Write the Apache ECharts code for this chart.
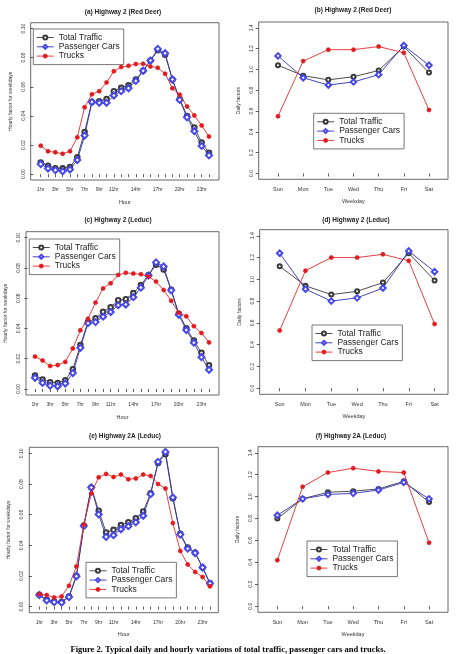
<!DOCTYPE html>
<html>
<head>
<meta charset="utf-8">
<script src="https://cdn.jsdelivr.net/npm/echarts@6/dist/echarts.min.js"></script>
<style>
  html, body { margin: 0; padding: 0; background: #fff; }
  #main { width: 456px; height: 654px; }
</style>
</head>
<body>
<div id="main"></div>
<script>
// ---- data ----
var hours = [1, 2, 3, 4, 5, 6, 7, 8, 9, 10, 11, 12, 13, 14, 15, 16, 17, 18, 19, 20, 21, 22, 23, 24];
var hourLabels = [1, 3, 5, 7, 9, 11, 14, 17, 20, 23];
var days = ['Sun', 'Mon', 'Tue', 'Wed', 'Thu', 'Fri', 'Sat'];
var dayIdx = [1, 2, 3, 4, 5, 6, 7];
var hourTicks = [0, 0.02, 0.04, 0.06, 0.08, 0.10];
var dayTicks = [0, 0.2, 0.4, 0.6, 0.8, 1.0, 1.2, 1.4];
var names = ['Total Traffic', 'Passenger Cars', 'Trucks'];

// (a) Highway 2 (Red Deer) hourly
var aTotal = [0.0081, 0.0058, 0.0041, 0.0040, 0.0050, 0.0117, 0.0290, 0.0495, 0.0500, 0.0516, 0.0570, 0.0594, 0.0610, 0.0650, 0.0710, 0.0780, 0.0850, 0.0820, 0.0650, 0.0516, 0.0400, 0.0320, 0.0217, 0.0147];
var aCars = [0.0069, 0.0039, 0.0028, 0.0020, 0.0032, 0.0097, 0.0265, 0.0495, 0.0490, 0.0490, 0.0540, 0.0570, 0.0590, 0.0640, 0.0710, 0.0780, 0.0860, 0.0830, 0.0650, 0.0510, 0.0390, 0.0295, 0.0194, 0.0129];
var aTrucks = [0.0196, 0.0157, 0.0150, 0.0140, 0.0157, 0.0253, 0.0459, 0.0548, 0.0570, 0.0630, 0.0707, 0.0735, 0.0744, 0.0756, 0.0758, 0.0740, 0.0730, 0.0690, 0.0590, 0.0546, 0.0465, 0.0403, 0.0334, 0.0258];
// (b) Highway 2 (Red Deer) daily
var bTotal = [1.04, 0.94, 0.90, 0.93, 0.99, 1.22, 0.97];
var bCars = [1.13, 0.92, 0.85, 0.88, 0.95, 1.23, 1.04];
var bTrucks = [0.55, 1.08, 1.19, 1.19, 1.22, 1.16, 0.61];
// (c) Highway 2 (Leduc) hourly
var cTotal = [0.0089, 0.0062, 0.0045, 0.0040, 0.0058, 0.0130, 0.0290, 0.0442, 0.0467, 0.0510, 0.0540, 0.0587, 0.0594, 0.0634, 0.0688, 0.0754, 0.0821, 0.0790, 0.0656, 0.0498, 0.0402, 0.0321, 0.0239, 0.0156];
var cCars = [0.0074, 0.0040, 0.0022, 0.0018, 0.0036, 0.0105, 0.0272, 0.0435, 0.0442, 0.0478, 0.0509, 0.0554, 0.0558, 0.0607, 0.0670, 0.0750, 0.0837, 0.0810, 0.0652, 0.0491, 0.0390, 0.0306, 0.0210, 0.0127];
var cTrucks = [0.0214, 0.0188, 0.0152, 0.0158, 0.0179, 0.0268, 0.0388, 0.0464, 0.0571, 0.0665, 0.0699, 0.0754, 0.0768, 0.0763, 0.0759, 0.0743, 0.0710, 0.0654, 0.0583, 0.0504, 0.0480, 0.0415, 0.0370, 0.0308];
// (d) Highway 2 (Leduc) daily
var dTotal = [1.12, 0.94, 0.86, 0.89, 0.97, 1.24, 0.99];
var dCars = [1.24, 0.91, 0.80, 0.83, 0.92, 1.26, 1.07];
var dTrucks = [0.53, 1.08, 1.20, 1.20, 1.23, 1.17, 0.59];
// (e) Highway 2A (Leduc) hourly
var eTotal = [0.0077, 0.0044, 0.0033, 0.0030, 0.0066, 0.0202, 0.0527, 0.0778, 0.0626, 0.0484, 0.0501, 0.0532, 0.0550, 0.0576, 0.0620, 0.0740, 0.0938, 0.0995, 0.0708, 0.0475, 0.0385, 0.0352, 0.0255, 0.0152];
var eCars = [0.0075, 0.0040, 0.0029, 0.0026, 0.0062, 0.0198, 0.0527, 0.0778, 0.0602, 0.0455, 0.0466, 0.0505, 0.0525, 0.0550, 0.0593, 0.0734, 0.0945, 0.1010, 0.0712, 0.0470, 0.0378, 0.0350, 0.0255, 0.0150];
var eTrucks = [0.0081, 0.0075, 0.0059, 0.0066, 0.0136, 0.0262, 0.0536, 0.0738, 0.0844, 0.0866, 0.0846, 0.0862, 0.0831, 0.0837, 0.0862, 0.0853, 0.0800, 0.0771, 0.0545, 0.0363, 0.0275, 0.0226, 0.0193, 0.0132];
// (f) Highway 2A (Leduc) daily
var fTotal = [0.80, 0.98, 1.04, 1.05, 1.07, 1.14, 0.95];
var fCars = [0.83, 0.98, 1.02, 1.03, 1.06, 1.13, 0.98];
var fTrucks = [0.42, 1.09, 1.22, 1.26, 1.23, 1.22, 0.58];

var chart = echarts.init(document.getElementById('main'));

// panel layout (px)
var panels = [
  { title: '(a) Highway 2 (Red Deer)', tx: 123, ty: 8.5, hourly: true, grid: [30.7, 22.7, 188.3, 157.3], x: [-0.37, 25.37], lg: [33.3, 29], data: [aTotal, aCars, aTrucks] },
  { title: '(b) Highway 2 (Red Deer)', tx: 353, ty: 7, hourly: false, grid: [258.7, 22, 189.3, 157.3], x: [0.233, 7.755], lg: [313.7, 113.3], data: [bTotal, bCars, bTrucks] },
  { title: '(c) Highway 2 (Leduc)', tx: 118, ty: 217, hourly: true, grid: [26, 231.7, 193, 163.3], x: [-0.19, 25.32], lg: [29.3, 239], data: [cTotal, cCars, cTrucks] },
  { title: '(d) Highway 2 (Leduc)', tx: 356, ty: 216.5, hourly: false, grid: [259.7, 229.7, 188.3, 164.6], x: [0.226, 7.52], lg: [312, 325], data: [dTotal, dCars, dTrucks] },
  { title: '(e) Highway 2A (Leduc)', tx: 125, ty: 432.5, hourly: true, grid: [29.3, 447.3, 189, 165.4], x: [-0.35, 25.12], lg: [86, 562.3], data: [eTotal, eCars, eTrucks] },
  { title: '(f) Highway 2A (Leduc)', tx: 351, ty: 432.5, hourly: false, grid: [258, 446.7, 190, 165.6], x: [0.235, 7.75], lg: [307, 541], data: [fTotal, fCars, fTrucks] }
];

var lineColors = ['#3a3a3a', '#3030b8', '#e52a2a'];
var markColors = ['#3a3a3a', '#4848e8', '#e3191c'];
var symbols = ['emptyCircle', 'emptyDiamond', 'circle'];
var axisText = { fontSize: 5, color: '#333', fontFamily: 'Liberation Sans' };

function pairs(xs, ys) {
  return ys.map(function(v, i) { return [xs[i], v]; });
}

var option = {
  animation: false,
  backgroundColor: '#fff',
  title: [],
  legend: [],
  grid: [],
  xAxis: [],
  yAxis: [],
  series: []
};

panels.forEach(function(p, i) {
  option.title.push({
    text: p.title, left: p.tx, top: p.ty, textAlign: 'center', padding: 0,
    textStyle: { fontSize: 6.5, fontWeight: 'bold', color: '#222', fontFamily: 'Liberation Sans' }
  });
  option.grid.push({
    show: true, left: p.grid[0], top: p.grid[1], width: p.grid[2], height: p.grid[3],
    borderColor: '#444', borderWidth: 0.8, backgroundColor: 'transparent'
  });
  option.legend.push({
    orient: 'vertical', left: p.lg[0], top: p.lg[1], padding: [4, 4, 4, 3],
    itemGap: 0.3, itemWidth: 17, itemHeight: 5,
    borderColor: '#555', borderWidth: 0.8, borderRadius: 0,
    lineStyle: { width: 0.9 },
    itemStyle: { borderWidth: 0.8 },
    textStyle: { fontSize: 8.5, color: '#222', fontFamily: 'Liberation Sans', lineHeight: 9 },
    data: names
  });
  var xs = p.hourly ? hours : dayIdx;
  option.xAxis.push({
    type: 'value', gridIndex: i, min: p.x[0], max: p.x[1],
    axisLine: { show: false },
    axisTick: { show: true, customValues: xs, length: 3, lineStyle: { color: '#333', width: 0.8 } },
    axisLabel: Object.assign({
      customValues: p.hourly ? hourLabels : dayIdx, margin: 7,
      formatter: p.hourly ? function(v) { return v + 'hr'; } : function(v) { return days[v - 1]; }
    }, axisText, { fontSize: p.hourly ? 5 : 5.5 }),
    splitLine: { show: false },
    name: p.hourly ? 'Hour' : 'Weekday', nameLocation: 'middle', nameGap: 19,
    nameTextStyle: Object.assign({}, axisText, { fontSize: 5.5 })
  });
  option.yAxis.push({
    type: 'value', gridIndex: i,
    min: p.hourly ? -0.004 : -0.056, max: p.hourly ? 0.104 : 1.456,
    axisLine: { show: false },
    axisTick: { show: true, customValues: p.hourly ? hourTicks : dayTicks, length: 3, lineStyle: { color: '#333', width: 0.8 } },
    axisLabel: Object.assign({
      customValues: p.hourly ? hourTicks : dayTicks, rotate: 90, margin: 5,
      formatter: function(v) { return p.hourly ? v.toFixed(2) : v.toFixed(1); }
    }, axisText),
    splitLine: { show: false },
    name: p.hourly ? 'Hourly factor for weekdays' : 'Daily factors',
    nameLocation: 'middle', nameGap: 18,
    nameTextStyle: Object.assign({}, axisText, { fontSize: 5 })
  });
  p.data.forEach(function(ys, k) {
    option.series.push({
      name: names[k], type: 'line', xAxisIndex: i, yAxisIndex: i,
      data: pairs(xs, ys),
      symbol: symbols[k],
      symbolSize: k === 1 ? (p.hourly ? 6 : 5.5) : (k === 0 ? (p.hourly ? 4.5 : 4) : 4),
      lineStyle: { color: lineColors[k], width: 0.9 },
      itemStyle: { color: markColors[k], borderColor: markColors[k], borderWidth: 0.7 },
      z: 2 + k
    });
  });
});

// caption
option.title.push({
  text: 'Figure 2. Typical daily and hourly variations of total traffic, passenger cars and trucks.',
  left: 228, top: 645, textAlign: 'center', padding: 0,
  textStyle: { fontSize: 8.5, fontWeight: 'bold', color: '#000', fontFamily: 'Liberation Serif' }
});

chart.setOption(option);
</script>
</body>
</html>
